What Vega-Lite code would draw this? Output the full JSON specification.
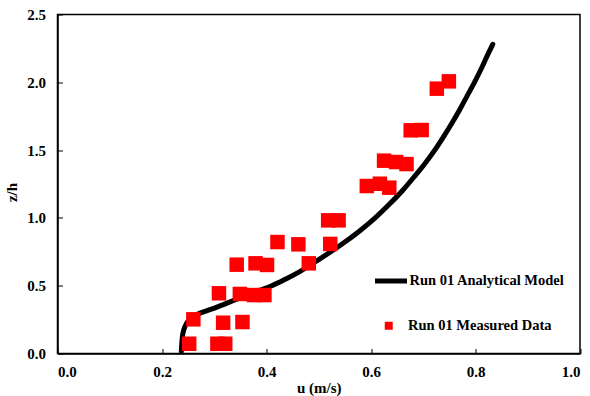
{
  "$schema": "https://vega.github.io/schema/vega-lite/v6.json",
  "width": 522.5,
  "height": 339,
  "autosize": "none",
  "padding": {"left": 57.5, "top": 14.5, "right": 10, "bottom": 42.5},
  "background": "white",
  "config": {
    "view": {"stroke": "black", "strokeWidth": 1.5},
    "font": "Liberation Serif",
    "axis": {
      "grid": false,
      "labelFont": "Liberation Serif",
      "labelFontWeight": "bold",
      "labelFontSize": 15,
      "labelColor": "black",
      "titleFont": "Liberation Serif",
      "titleFontWeight": "bold",
      "titleFontSize": 15,
      "titleColor": "black",
      "domainColor": "black",
      "domainWidth": 1.5,
      "tickColor": "black",
      "tickWidth": 1,
      "tickSize": -5
    },
    "legend": {
      "labelFont": "Liberation Serif",
      "labelFontWeight": "bold",
      "labelFontSize": 14.5,
      "labelColor": "black",
      "padding": 0
    }
  },
  "datasets": {
    "model": [
      {"series": "Run 01 Analytical Model", "u": 0.237, "z": 0.013},
      {"series": "Run 01 Analytical Model", "u": 0.238, "z": 0.08},
      {"series": "Run 01 Analytical Model", "u": 0.240, "z": 0.15},
      {"series": "Run 01 Analytical Model", "u": 0.244, "z": 0.20},
      {"series": "Run 01 Analytical Model", "u": 0.250, "z": 0.24},
      {"series": "Run 01 Analytical Model", "u": 0.258, "z": 0.27},
      {"series": "Run 01 Analytical Model", "u": 0.268, "z": 0.29},
      {"series": "Run 01 Analytical Model", "u": 0.282, "z": 0.31},
      {"series": "Run 01 Analytical Model", "u": 0.310, "z": 0.35},
      {"series": "Run 01 Analytical Model", "u": 0.343, "z": 0.40},
      {"series": "Run 01 Analytical Model", "u": 0.377, "z": 0.45},
      {"series": "Run 01 Analytical Model", "u": 0.410, "z": 0.50},
      {"series": "Run 01 Analytical Model", "u": 0.437, "z": 0.55},
      {"series": "Run 01 Analytical Model", "u": 0.462, "z": 0.60},
      {"series": "Run 01 Analytical Model", "u": 0.503, "z": 0.70},
      {"series": "Run 01 Analytical Model", "u": 0.542, "z": 0.80},
      {"series": "Run 01 Analytical Model", "u": 0.577, "z": 0.90},
      {"series": "Run 01 Analytical Model", "u": 0.608, "z": 1.00},
      {"series": "Run 01 Analytical Model", "u": 0.635, "z": 1.10},
      {"series": "Run 01 Analytical Model", "u": 0.660, "z": 1.20},
      {"series": "Run 01 Analytical Model", "u": 0.682, "z": 1.30},
      {"series": "Run 01 Analytical Model", "u": 0.703, "z": 1.40},
      {"series": "Run 01 Analytical Model", "u": 0.722, "z": 1.50},
      {"series": "Run 01 Analytical Model", "u": 0.739, "z": 1.60},
      {"series": "Run 01 Analytical Model", "u": 0.755, "z": 1.70},
      {"series": "Run 01 Analytical Model", "u": 0.770, "z": 1.80},
      {"series": "Run 01 Analytical Model", "u": 0.784, "z": 1.90},
      {"series": "Run 01 Analytical Model", "u": 0.798, "z": 2.00},
      {"series": "Run 01 Analytical Model", "u": 0.811, "z": 2.10},
      {"series": "Run 01 Analytical Model", "u": 0.823, "z": 2.20},
      {"series": "Run 01 Analytical Model", "u": 0.833, "z": 2.28}
    ],
    "measured": [
      {"series": "Run 01 Measured Data", "u": 0.252, "z": 0.072},
      {"series": "Run 01 Measured Data", "u": 0.306, "z": 0.072},
      {"series": "Run 01 Measured Data", "u": 0.321, "z": 0.072},
      {"series": "Run 01 Measured Data", "u": 0.260, "z": 0.252},
      {"series": "Run 01 Measured Data", "u": 0.317, "z": 0.227},
      {"series": "Run 01 Measured Data", "u": 0.354, "z": 0.232},
      {"series": "Run 01 Measured Data", "u": 0.309, "z": 0.444},
      {"series": "Run 01 Measured Data", "u": 0.349, "z": 0.439},
      {"series": "Run 01 Measured Data", "u": 0.376, "z": 0.431},
      {"series": "Run 01 Measured Data", "u": 0.396, "z": 0.431},
      {"series": "Run 01 Measured Data", "u": 0.343, "z": 0.655},
      {"series": "Run 01 Measured Data", "u": 0.379, "z": 0.665},
      {"series": "Run 01 Measured Data", "u": 0.401, "z": 0.653},
      {"series": "Run 01 Measured Data", "u": 0.481, "z": 0.665},
      {"series": "Run 01 Measured Data", "u": 0.421, "z": 0.822},
      {"series": "Run 01 Measured Data", "u": 0.461, "z": 0.805},
      {"series": "Run 01 Measured Data", "u": 0.522, "z": 0.808},
      {"series": "Run 01 Measured Data", "u": 0.518, "z": 0.982},
      {"series": "Run 01 Measured Data", "u": 0.538, "z": 0.982},
      {"series": "Run 01 Measured Data", "u": 0.592, "z": 1.235},
      {"series": "Run 01 Measured Data", "u": 0.617, "z": 1.252},
      {"series": "Run 01 Measured Data", "u": 0.635, "z": 1.223},
      {"series": "Run 01 Measured Data", "u": 0.625, "z": 1.422},
      {"series": "Run 01 Measured Data", "u": 0.648, "z": 1.412},
      {"series": "Run 01 Measured Data", "u": 0.668, "z": 1.397},
      {"series": "Run 01 Measured Data", "u": 0.676, "z": 1.646},
      {"series": "Run 01 Measured Data", "u": 0.697, "z": 1.648},
      {"series": "Run 01 Measured Data", "u": 0.726, "z": 1.953},
      {"series": "Run 01 Measured Data", "u": 0.749, "z": 2.007}
    ]
  },
  "layer": [
    {
      "data": {"name": "model"},
      "mark": {"type": "line", "strokeWidth": 5, "strokeCap": "round", "strokeJoin": "round", "interpolate": "catmull-rom"},
      "encoding": {
        "x": {
          "field": "u", "type": "quantitative",
          "scale": {"domain": [0, 1], "nice": false},
          "axis": {"title": "u (m/s)", "values": [0, 0.2, 0.4, 0.6, 0.8, 1.0], "format": ".1f", "labelPadding": 16, "titleY": 27, "titleBaseline": "top"}
        },
        "y": {
          "field": "z", "type": "quantitative",
          "scale": {"domain": [0, 2.5], "nice": false},
          "axis": {"title": "z/h", "values": [0, 0.5, 1.0, 1.5, 2.0, 2.5], "format": ".1f", "labelPadding": 17, "titleX": -46, "titleY": 177.5, "titleBaseline": "middle"}
        },
        "order": {"field": "z", "type": "quantitative"},
        "color": {
          "field": "series", "type": "nominal",
          "scale": {"range": ["black"]},
          "legend": {
            "title": null, "orient": "none", "legendX": 315, "legendY": 248,
            "symbolType": "stroke", "symbolSize": 1024, "symbolStrokeWidth": 5,
            "labelOffset": 0
          }
        }
      }
    },
    {
      "data": {"name": "measured"},
      "mark": {"type": "point", "shape": "square", "filled": true, "size": 210, "color": "#ff0000", "opacity": 1},
      "encoding": {
        "x": {"field": "u", "type": "quantitative"},
        "y": {"field": "z", "type": "quantitative"},
        "shape": {
          "field": "series", "type": "nominal",
          "scale": {"range": ["square"]},
          "legend": {
            "title": null, "orient": "none", "legendX": 324, "legendY": 304,
            "symbolSize": 64, "symbolFillColor": "#ff0000", "symbolStrokeColor": "#ff0000",
            "symbolStrokeWidth": 0, "symbolOpacity": 1, "labelOffset": 12
          }
        }
      }
    }
  ]
}
